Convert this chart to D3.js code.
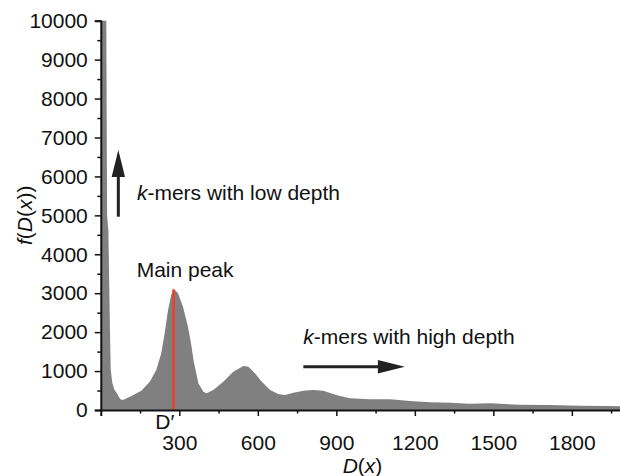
<!DOCTYPE html>
<html>
<head>
<meta charset="utf-8">
<script src="https://cdn.jsdelivr.net/npm/d3@7"></script>
<style>
  body { margin: 0; background: #fff; }
  svg text { font-family: "Liberation Sans", Arial, sans-serif; }
</style>
</head>
<body>
<div id="chart-area"></div>
<script>
// k-mer depth distribution
var depth = [2, 21, 24, 29, 35, 38, 44, 52, 61, 72, 80, 91, 117, 155, 187, 212, 231, 244, 257, 269, 280, 295, 314, 333, 345, 355, 373, 392, 404, 430, 468, 506, 545, 564, 589, 615, 647, 678, 704, 736, 774, 812, 850, 888, 914, 952, 1029, 1105, 1182, 1258, 1335, 1411, 1488, 1603, 1717, 1832, 1946, 2000]
var freq = [10000, 10000, 5000, 4600, 2050, 1030, 700, 520, 437, 300, 257, 275, 360, 497, 727, 1027, 1456, 1970, 2569, 2954, 3100, 2997, 2654, 2140, 1700, 1250, 685, 471, 428, 514, 728, 985, 1130, 1113, 942, 728, 514, 411, 385, 445, 497, 514, 497, 411, 360, 300, 275, 275, 231, 198, 188, 163, 171, 137, 128, 111, 103, 94]

var xTicks = [300, 600, 900, 1200, 1500, 1800]
var xMinor = [150, 450, 750, 1050, 1350, 1650, 1950]
var yTicks = [0, 1000, 2000, 3000, 4000, 5000, 6000, 7000, 8000, 9000, 10000]
var yMinor = [500, 1500, 2500, 3500, 4500, 5500, 6500, 7500, 8500, 9500]

var peakX = 278, peakY = 3100

var data = depth.map(function(d, i){ return {x: d, y: freq[i]} })

var svg = d3.select("#chart-area").append("svg")
    .attr("width", 620)
    .attr("height", 476)

var x = d3.scaleLinear().domain([0, 2000]).range([100.8, 624.2])
var y = d3.scaleLinear().domain([0, 10000]).range([410, 20.7])

var area = d3.area()
    .x(function(d){ return x(d.x) })
    .y0(y(0))
    .y1(function(d){ return y(d.y) })

svg.append("path")
    .datum(data)
    .attr("d", area)
    .attr("fill", "#808080")

// main peak marker
svg.append("line")
    .attr("x1", x(peakX)).attr("x2", x(peakX))
    .attr("y1", y(0)).attr("y2", y(peakY))
    .attr("stroke", "#e8412c")
    .attr("stroke-width", 2.6)

// axes
var fs = "21px"
var yAxis = svg.append("g")
    .attr("transform", "translate(" + x(0) + ",0)")
    .call(d3.axisLeft(y).tickValues(yTicks).tickSize(6).tickPadding(7).tickFormat(d3.format("d")))
svg.append("g")
    .attr("transform", "translate(" + x(0) + ",0)")
    .call(d3.axisLeft(y).tickValues(yMinor).tickSize(3.5).tickFormat(""))
    .select(".domain").remove()

var xAxis = svg.append("g")
    .attr("transform", "translate(0," + y(0) + ")")
    .call(d3.axisBottom(x).tickValues(xTicks).tickSize(6).tickPadding(19).tickFormat(d3.format("d")))
svg.append("g")
    .attr("transform", "translate(0," + y(0) + ")")
    .call(d3.axisBottom(x).tickValues(xMinor).tickSize(3.5).tickFormat(""))
    .select(".domain").remove()

svg.selectAll(".tick line").attr("stroke", "#111").attr("stroke-width", 1.5)
svg.selectAll(".domain").attr("stroke", "#111").attr("stroke-width", 2)
svg.selectAll(".tick text").attr("font-size", fs).attr("fill", "#111")
    .style("font-family", "'Liberation Sans', Arial, sans-serif")

// axis titles
var xt = svg.append("text")
    .attr("x", x(1000)).attr("y", 473)
    .attr("text-anchor", "middle").attr("font-size", fs).attr("fill", "#111")
xt.append("tspan").attr("font-style", "italic").text("D")
xt.append("tspan").text("(")
xt.append("tspan").attr("font-style", "italic").text("x")
xt.append("tspan").text(")")

var yt = svg.append("text")
    .attr("transform", "translate(32," + y(5000) + ") rotate(-90)")
    .attr("text-anchor", "middle").attr("font-size", fs).attr("fill", "#111")
yt.append("tspan").attr("font-style", "italic").text("f")
yt.append("tspan").text("(")
yt.append("tspan").attr("font-style", "italic").text("D")
yt.append("tspan").text("(")
yt.append("tspan").attr("font-style", "italic").text("x")
yt.append("tspan").text("))")

svg.append("text")
    .attr("x", x(245)).attr("y", y(0) + 19)
    .attr("text-anchor", "middle").attr("font-size", fs).attr("fill", "#111")
    .text("D\u2032")

// annotations
svg.append("text")
    .attr("x", x(137)).attr("y", y(3424))
    .attr("font-size", fs).attr("fill", "#111")
    .text("Main peak")

var low = svg.append("text")
    .attr("x", x(138)).attr("y", y(5394))
    .attr("font-size", fs).attr("fill", "#111")
low.append("tspan").attr("font-style", "italic").text("k")
low.append("tspan").text("-mers with low depth")

var high = svg.append("text")
    .attr("x", x(774)).attr("y", y(1695))
    .attr("font-size", fs).attr("fill", "#111")
high.append("tspan").attr("font-style", "italic").text("k")
high.append("tspan").text("-mers with high depth")

// arrows
var upX = 67, upFrom = 4965, upTo = 6680
svg.append("line")
    .attr("x1", x(upX)).attr("x2", x(upX))
    .attr("y1", y(upFrom)).attr("y2", y(upTo) + 20)
    .attr("stroke", "#222").attr("stroke-width", 3)
svg.append("path")
    .attr("d", "M" + x(upX) + "," + y(upTo) + "l-6.7,27h13.4z")
    .attr("fill", "#222")

var rY = 1112, rFrom = 774, rTo = 1162
svg.append("line")
    .attr("x1", x(rFrom)).attr("x2", x(rTo) - 20)
    .attr("y1", y(rY)).attr("y2", y(rY))
    .attr("stroke", "#222").attr("stroke-width", 3)
svg.append("path")
    .attr("d", "M" + x(rTo) + "," + y(rY) + "l-27,-6.7v13.4z")
    .attr("fill", "#222")
</script>
</body>
</html>
